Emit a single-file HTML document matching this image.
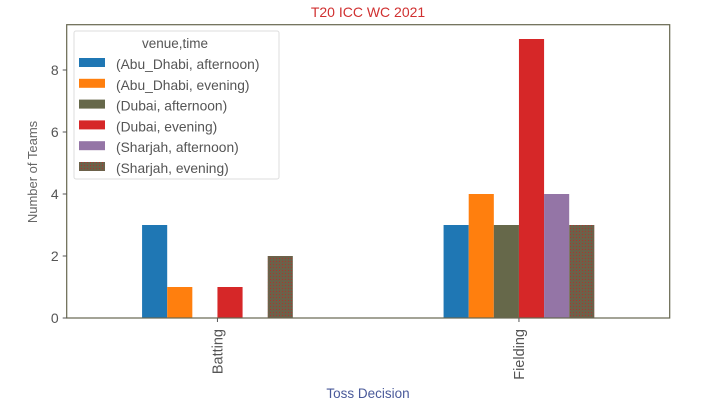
<!DOCTYPE html>
<html><head><meta charset="utf-8"><style>
body{margin:0;background:#fff;width:716px;height:410px;overflow:hidden}
svg text{font-family:"Liberation Sans","DejaVu Sans",sans-serif}
</style></head><body>
<svg width="716" height="410">
<defs>
<pattern id="dots" width="3" height="3" patternUnits="userSpaceOnUse">
<rect width="3" height="3" fill="#66664a"/><rect width="1" height="1" fill="#b03030"/><rect x="1.5" y="1.5" width="1" height="1" fill="#8a4a45"/>
</pattern>
</defs>
<g id="plot"></g>
</svg>
<script>
const categories=["Batting","Fielding"];
const seriesNames=["(Abu_Dhabi, afternoon)","(Abu_Dhabi, evening)","(Dubai, afternoon)","(Dubai, evening)","(Sharjah, afternoon)","(Sharjah, evening)"];
const abuAfternoon=[3,3];
const abuEvening=[1,4];
const dubaiAfternoon=[0,3];
const dubaiEvening=[1,9];
const sharjahAfternoon=[0,4];
const sharjahEvening=[2,3];
const yTicks=[0,2,4,6,8];
const series=[abuAfternoon,abuEvening,dubaiAfternoon,dubaiEvening,sharjahAfternoon,sharjahEvening];
const colors=["#1f77b4","#ff7f0e","#66684a","#d62728","#9475a6","url(#dots)"];
const L=66.7,R=669.7,T=24.7,B=318;
const xS=v=>L+(v+0.5)/2*(R-L);
const yS=v=>B-v*31;
const NS="http://www.w3.org/2000/svg";
const g=document.getElementById('plot');
function mk(t,a,txt){const e=document.createElementNS(NS,t);for(const k in a)e.setAttribute(k,a[k]);if(txt!=null)e.textContent=txt;g.appendChild(e);return e;}
const bw=0.5/series.length;
series.forEach((s,si)=>{s.forEach((v,ci)=>{
const x0=xS(ci-0.25+si*bw),x1=xS(ci-0.25+(si+1)*bw);
const r=mk('rect',{x:x0,y:yS(v),width:x1-x0,height:yS(0)-yS(v),fill:colors[si]});


});});
const fr=mk('rect',{x:L,y:T,width:R-L,height:B-T,fill:'none',stroke:'#66664f','stroke-width':1.2});


yTicks.forEach(t=>{
mk('line',{x1:L-4,x2:L,y1:yS(t),y2:yS(t),stroke:'#555'});
const tx=mk('text',{x:L-8,y:yS(t)+5,'text-anchor':'end','font-size':14,fill:'#555'},t);


});
categories.forEach((c,i)=>{
mk('line',{x1:xS(i),x2:xS(i),y1:B,y2:B+4,stroke:'#555'});
const tx=mk('text',{transform:`translate(${xS(i)+5},${B+11}) rotate(-90)`,'text-anchor':'end','font-size':14.5,fill:'#555'},c);


});
let t=mk('text',{x:368,y:17,'text-anchor':'middle','font-size':14,fill:'#d03030'},'T20 ICC WC 2021');


t=mk('text',{x:368,y:398,'text-anchor':'middle','font-size':13.5,fill:'#4a5a9a'},'Toss Decision');


t=mk('text',{transform:'translate(37,172) rotate(-90)','text-anchor':'middle','font-size':13,fill:'#666'},'Number of Teams');


const lg=mk('rect',{x:74,y:31,width:205,height:148,fill:'#fff',stroke:'#ddd',rx:2});


t=mk('text',{x:175,y:48,'text-anchor':'middle','font-size':13.5,fill:'#555'},'venue,time');


seriesNames.forEach((n,i)=>{
const y=58+i*20.8;
mk('rect',{x:79,y:y,width:26,height:9,fill:colors[i]});
const e=mk('text',{x:116,y:y+11,'font-size':13.8,fill:'#555'},n);


});
</script>
</body></html>
